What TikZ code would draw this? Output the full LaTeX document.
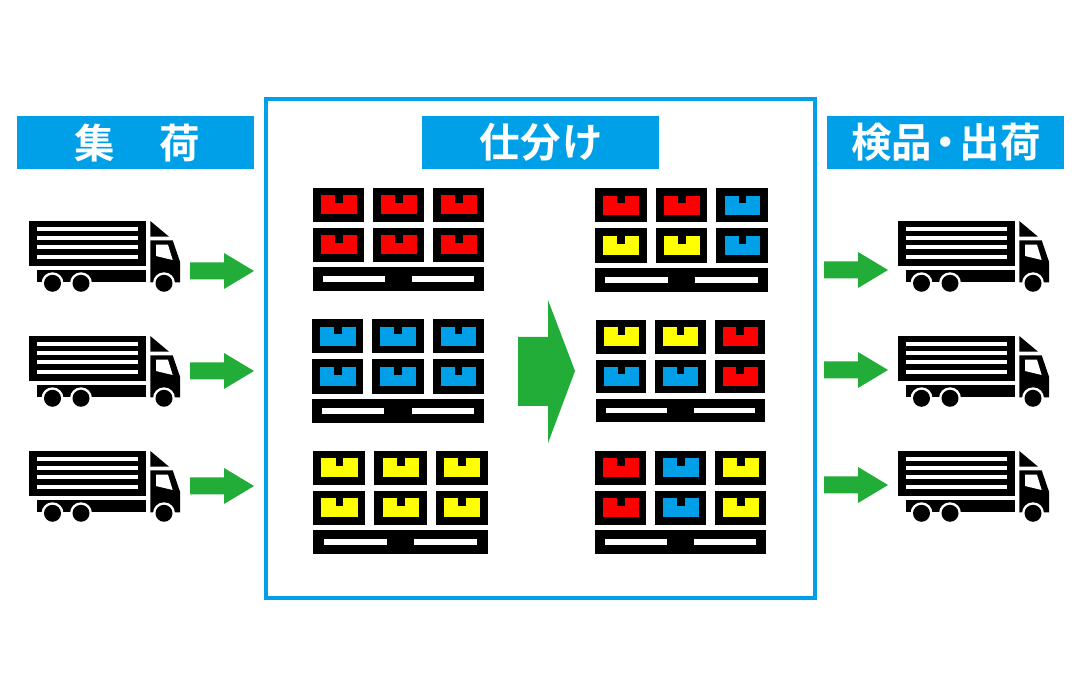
\documentclass[tikz,border=0pt]{standalone}
\usepackage{fontspec}
\newfontfamily\jpfont[BoldFont=Noto Sans CJK JP Bold]{Noto Sans CJK JP}
\definecolor{hblue}{HTML}{00A0E9}
\definecolor{agreen}{HTML}{22AC38}
\definecolor{cred}{HTML}{FF0000}
\definecolor{cblue}{HTML}{009FE8}
\definecolor{cyel}{HTML}{FFFF00}
\tikzset{
  header/.style={fill=hblue,text=white,minimum width=237pt,minimum height=53pt,inner sep=0pt,font=\jpfont\bfseries\fontsize{40.5}{40.5}\selectfont,anchor=north west},
  frame/.style={draw=hblue,line width=4pt,fill=none}
}
\newcommand{\crateat}[3]{%
  \fill[black] (#1,#2) rectangle ++(51,34);
  \fill[#3] (#1+8,#2+7.5) rectangle ++(35.5,19);
  \fill[black] (#1+22,#2+7.5) rectangle ++(7.5,7.5);
}
\newcommand{\palletat}[6]{% x y w h {colours a,b,c} {d,e,f}
  \begin{scope}[shift={(#1,#2)},xscale=#3/171,yscale=#4/103]
    \foreach \cc [count=\i from 0] in {#5} {\crateat{\i*60}{0}{\cc}}
    \foreach \cc [count=\i from 0] in {#6} {\crateat{\i*60}{40}{\cc}}
    \fill[black] (0,79.5) rectangle (171,103);
    \fill[white] (10.3,88.5) rectangle (72,94);
    \fill[white] (99,88.5) rectangle (160.7,94);
  \end{scope}
}
\newcommand{\truckat}[2]{%
  \begin{scope}[shift={(#1,#2)}]
    \fill[black] (0,0) rectangle (117,45.5);
    \foreach \yy in {5.7,15,24.3,34} {\fill[white] (8.3,\yy) rectangle (108.7,\yy+4);}
    \fill[black] (8.3,49.3) rectangle (117,61.3);
    \fill[black] (121.3,0) -- (121.3,15.7) -- (140,15.7) -- cycle;
    \fill[black] (121.3,19.3) -- (143.7,19.3) -- (151,40.7) -- (151,61.3) -- (121.3,61.3) -- cycle;
    \fill[white] (127,23.7) -- (139,23.7) -- (143.7,39) -- (127,35) -- cycle;
    \foreach \xx in {23.5,52,135} {
      \fill[white] (\xx,62.3) circle (11);
      \fill[black] (\xx,62.3) circle (8.5);
    }
  \end{scope}
}
\newcommand{\arrowat}[2]{%
  \fill[agreen] (#1,#2-8.5) -- (#1+34,#2-8.5) -- (#1+34,#2-18) -- (#1+64,#2) -- (#1+34,#2+18) -- (#1+34,#2+8.5) -- (#1,#2+8.5) -- cycle;
}
\begin{document}
\begin{tikzpicture}[x=1pt,y=-1pt]
\useasboundingbox (0,0) rectangle (1080,700);
\fill[white] (0,0) rectangle (1080,700);
\draw[frame] (266,99) rectangle (815,598);
\node[header] (h1) at (17,116) {\raisebox{-0.7pt}{\hspace{3pt}集\hspace{44pt}荷}};
\node[header] (h2) at (422,116) {\raisebox{-0.7pt}{\hspace{1pt}仕\hspace{0.7pt}分\hspace{0.7pt}け}};
\node[header] (h3) at (827,116) {\raisebox{-0.7pt}{\hspace{1pt}検品\makebox[27.5pt][c]{・}出荷}};
\foreach \yy in {221,336,451} {\truckat{29}{\yy}\truckat{898}{\yy}}
\arrowat{190}{271}\arrowat{190}{371}\arrowat{190}{486}
\arrowat{824}{270}\arrowat{824}{370}\arrowat{824}{485}
\palletat{313}{188}{171}{103}{cred,cred,cred}{cred,cred,cred}
\palletat{312}{319}{172}{104}{cblue,cblue,cblue}{cblue,cblue,cblue}
\palletat{313}{451}{175}{103}{cyel,cyel,cyel}{cyel,cyel,cyel}
\palletat{595}{188}{173}{104}{cred,cred,cblue}{cyel,cyel,cblue}
\palletat{596}{320}{169}{102}{cyel,cyel,cred}{cblue,cblue,cred}
\palletat{595}{451}{171}{103}{cred,cblue,cyel}{cred,cblue,cyel}
\fill[agreen] (518,337) -- (548,337) -- (548,300) -- (575,371) -- (548,443) -- (548,406) -- (518,406) -- cycle;
\end{tikzpicture}
\end{document}
